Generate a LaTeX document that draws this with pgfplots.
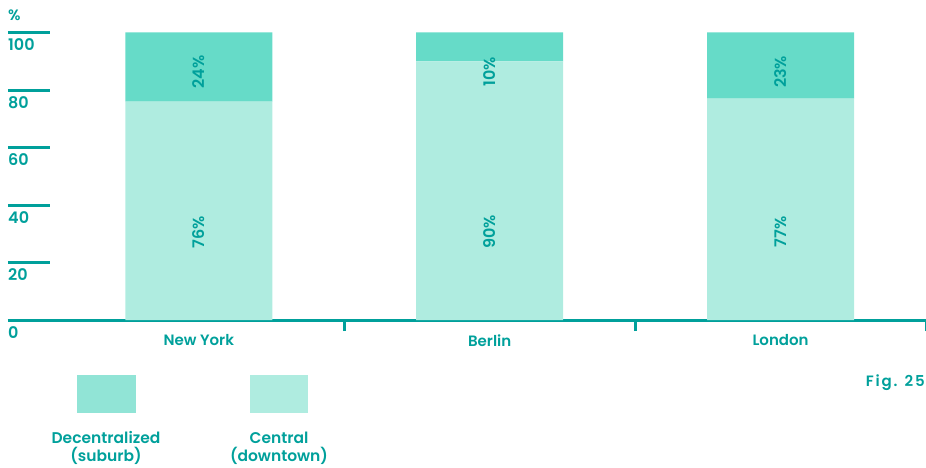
\documentclass[border=0pt]{standalone}
\usepackage{fontspec}
\setmainfont{Poppins}[BoldFont={Poppins SemiBold}]
\usepackage{pgfplots}
\pgfplotsset{compat=1.18}

\definecolor{teal}{RGB}{0,160,155}
\definecolor{darkbar}{RGB}{102,219,200}
\definecolor{lightbar}{RGB}{175,236,224}
\definecolor{legdark}{RGB}{145,228,214}

\pgfplotsset{
  frame/.style={
    at={(8pt,147pt)}, anchor=south west,
    scale only axis, width=918pt, height=287.5pt,
    xmin=-0.656, xmax=2.5, ymin=0, ymax=100,
    clip=false,
  },
}

\begin{document}
\begin{tikzpicture}
\useasboundingbox (0,0) rectangle (926pt,467pt);
\begin{axis}[
  frame,
  ybar stacked, bar width=147pt,
  axis lines*=left,
  x axis line style={draw=teal, line width=3pt, -},
  y axis line style={draw=none},
  % categories, separators as minor ticks
  xtick={0,1,2}, xticklabels={New York,Berlin,London},
  major x tick style={draw=none},
  minor xtick={0.5,1.5,2.5},
  minor x tick style={draw=teal, line width=3pt},
  minor tick length=11pt, xtick align=outside,
  % outside alignment pushes labels down by the 42pt major length
  xticklabel style={font=\fontsize{15}{17}\selectfont\bfseries, text=teal, yshift=31pt},
  % value axis
  ytick={0,20,...,100},
  ytick align=inside, major tick length=42pt,
  major y tick style={draw=teal, line width=3pt},
  yticklabel style={anchor=north west, inner sep=0pt, yshift=-6pt,
    font=\fontsize{16}{18}\selectfont\bfseries, text=teal},
  /pgf/number format/assume math mode=true,
]
% Central (downtown)
\addplot[fill=lightbar, draw=none] coordinates {(0,76) (1,90) (2,77)};
% Decentralized (suburb)
\addplot[fill=darkbar, draw=none] coordinates {(0,24) (1,10) (2,23)};
\end{axis}

% value labels, at the heights used in the original
\begin{axis}[frame, hide axis]
\addplot[draw=none, mark=none, nodes near coords, point meta=explicit symbolic,
  every node near coord/.append style={anchor=center, rotate=90,
    font=\fontsize{16}{18}\selectfont\bfseries, text=teal}]
  coordinates {(0,30.6) [76\%] (1,30.6) [90\%] (2,30.6) [77\%]
               (0,86.3) [24\%] (1,86.3) [10\%] (2,86.3) [23\%]};
\end{axis}

% unit
\node[anchor=west, inner sep=0pt, text=teal, font=\fontsize{15}{17}\selectfont\bfseries]
  at (8pt,452pt) {\%};

% legend
\fill[legdark] (77pt,54pt) rectangle (136pt,92pt);
\fill[lightbar] (250pt,54pt) rectangle (308pt,92pt);
\node[align=center, text=teal, font=\fontsize{15.5}{18}\selectfont\bfseries, anchor=north]
  at (106pt,39pt) {Decentralized\\(suburb)};
\node[align=center, text=teal, font=\fontsize{15.5}{18}\selectfont\bfseries, anchor=north]
  at (279pt,39pt) {Central\\(downtown)};

\node[anchor=east, inner sep=0pt, text=teal, font=\fontsize{15}{17}\selectfont\bfseries]
  at (925pt,84pt) {\addfontfeatures{LetterSpace=12}Fig. 25};
\end{tikzpicture}
\end{document}
